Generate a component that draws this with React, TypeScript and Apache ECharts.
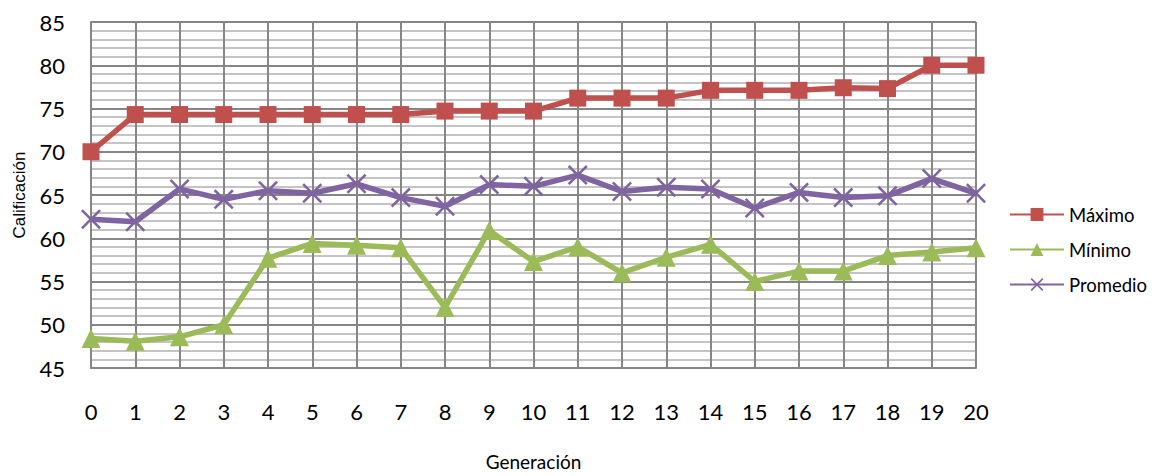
import React, { useEffect, useRef } from "react";
import * as echarts from "echarts";

const generations = ["0","1","2","3","4","5","6","7","8","9","10","11","12","13","14","15","16","17","18","19","20"];
const maximo = [70, 74.3, 74.3, 74.3, 74.3, 74.3, 74.3, 74.3, 74.7, 74.7, 74.7, 76.2, 76.2, 76.2, 77.1, 77.1, 77.1, 77.4, 77.3, 80, 80];
const minimo = [48.4, 48.1, 48.6, 50.0, 57.7, 59.4, 59.2, 58.9, 52.0, 60.9, 57.3, 59.0, 56.0, 57.8, 59.3, 55.0, 56.2, 56.2, 58.0, 58.4, 58.9];
const promedio = [62.2, 61.9, 65.7, 64.5, 65.5, 65.2, 66.3, 64.7, 63.7, 66.2, 66.0, 67.3, 65.4, 65.9, 65.7, 63.5, 65.3, 64.7, 64.9, 66.9, 65.2];
const yMin = 45;
const yMax = 85;
const yStep = 5;

const RED = "#C0504D";
const GREEN = "#9BBB59";
const PURPLE = "#8064A2";
const XPATH = "path://M0,1.8 L1.8,0 L10,8.2 L18.2,0 L20,1.8 L11.8,10 L20,18.2 L18.2,20 L10,11.8 L1.8,20 L0,18.2 L8.2,10 Z";

export default function App() {
  const ref = useRef<HTMLDivElement>(null);
  useEffect(() => {
    if (!ref.current) return;
    const chart = echarts.init(ref.current, null, { renderer: "svg" });
    chart.setOption({
      animation: false,
      backgroundColor: "#ffffff",
      grid: { left: 91, right: 179, top: 22, bottom: 102 },
      legend: {
        orient: "vertical",
        left: 1004,
        top: 200,
        itemWidth: 54,
        itemHeight: 16,
        itemGap: 16,
        textStyle: { fontFamily: "Lato", fontSize: 18.5, color: "#000" },
        data: ["Máximo", "Mínimo", "Promedio"],
      },
      xAxis: {
        type: "category",
        boundaryGap: false,
        data: generations,
        name: "Generación",
        nameLocation: "middle",
        nameGap: 84,
        nameTextStyle: { fontFamily: "Lato", fontSize: 19, color: "#000" },
        axisLine: { show: true, lineStyle: { color: "#868686", width: 2 } },
        axisTick: { show: false },
        axisLabel: { fontFamily: "Lato", fontSize: 22, color: "#000", margin: 32 },
        splitLine: { show: true, lineStyle: { color: "#868686", width: 2 } },
      },
      yAxis: {
        type: "value",
        min: yMin,
        max: yMax,
        interval: yStep,
        name: "Calificación",
        nameLocation: "middle",
        nameGap: 63,
        nameRotate: 90,
        nameTextStyle: { fontFamily: "Liberation Sans", fontSize: 17, color: "#000" },
        axisLine: { show: true, lineStyle: { color: "#868686", width: 2 } },
        axisTick: { show: false },
        axisLabel: { fontFamily: "Lato", fontSize: 22, color: "#000", margin: 26 },
        splitLine: { show: true, lineStyle: { color: "#868686", width: 2 } },
        minorTick: { show: false, splitNumber: 5 },
        minorSplitLine: { show: true, lineStyle: { color: "#c4c4c4", width: 2 } },
      },
      series: [
        {
          name: "Máximo",
          type: "line",
          data: maximo,
          symbol: "rect",
          symbolSize: 17,
          lineStyle: { color: RED, width: 5.5 },
          itemStyle: { color: RED },
        },
        {
          name: "Mínimo",
          type: "line",
          data: minimo,
          symbol: "triangle",
          symbolSize: 19,
          lineStyle: { color: GREEN, width: 5.5 },
          itemStyle: { color: GREEN },
        },
        {
          name: "Promedio",
          type: "line",
          data: promedio,
          symbol: XPATH,
          symbolSize: 20,
          lineStyle: { color: PURPLE, width: 5.5 },
          itemStyle: { color: PURPLE },
        },
      ],
    });
    return () => chart.dispose();
  }, []);
  return <div ref={ref} style={{ position: "fixed", left: 0, top: 0, width: 1155, height: 476 }} />;
}
